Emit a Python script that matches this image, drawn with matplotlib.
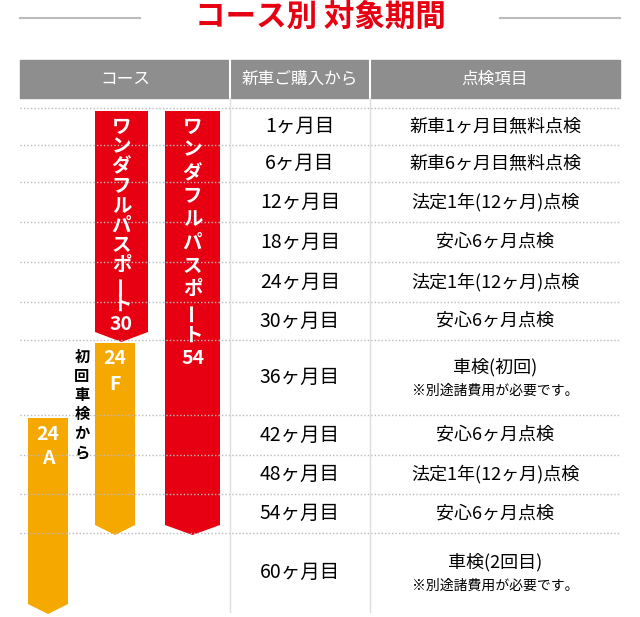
import matplotlib
matplotlib.use("Agg")
import matplotlib.pyplot as plt
from matplotlib.patches import Rectangle, Polygon

FONT = "Noto Sans CJK JP"
plt.rcParams["font.family"] = FONT

title = "コース別 対象期間"
headers = ["コース", "新車ご購入から", "点検項目"]
months = [1, 6, 12, 18, 24, 30, 36, 42, 48, 54, 60]
items = ["新車1ヶ月目無料点検", "新車6ヶ月目無料点検", "法定1年(12ヶ月)点検", "安心6ヶ月点検",
         "法定1年(12ヶ月)点検", "安心6ヶ月点検", "車検(初回)", "安心6ヶ月点検",
         "法定1年(12ヶ月)点検", "安心6ヶ月点検", "車検(2回目)"]
notes = ["", "", "", "", "", "", "※別途諸費用が必要です。", "", "", "", "※別途諸費用が必要です。"]
course_labels = [["ワ","ン","ダ","フ","ル","パ","ス","ポ","ー","ト","30"],
                 ["ワ","ン","ダ","フ","ル","パ","ス","ポ","ー","ト","54"],
                 ["24","F"], ["24","A"]]
course_start = [1, 1, 36, 42]
course_end = [30, 54, 54, 60]

RED, ORANGE, GREY = "#e60012", "#f5a800", "#8e8e8e"

fig = plt.figure(figsize=(6.4, 6.17), dpi=100)
ax = fig.add_axes([0, 0, 1, 1])
ax.set_xlim(0, 640); ax.set_ylim(617, 0); ax.axis("off")

ax.text(320, 17, title, color=RED, fontsize=22, fontweight="bold", ha="center", va="center")
ax.plot([20, 140], [18, 18], color="#bbbbbb", lw=1.5)
ax.plot([500, 620], [18, 18], color="#bbbbbb", lw=1.5)

ax.add_patch(Rectangle((20, 60), 600, 38, color=GREY))
for x in (230, 370):
    ax.plot([x, x], [60, 98], color="white", lw=1.5)
for x, h in zip([125, 300, 495], headers):
    ax.text(x, 79, h, color="white", fontsize=12, ha="center", va="center")

bounds = [108, 145, 182, 222, 262, 302, 340, 415, 455, 494, 533, 612]
for b in bounds[:-1]:
    ax.plot([20, 620], [b, b], color="#bbbbbb", lw=1, ls=(0, (1, 1.5)))
for x in (230, 370):
    ax.plot([x, x], [98, 612], color="#dddddd", lw=1)

for i, m in enumerate(months):
    yc = (bounds[i] + bounds[i + 1]) / 2
    ax.text(300, yc, f"{m}ヶ月目", fontsize=14, ha="center", va="center")
    if notes[i]:
        ax.text(495, yc - 10, items[i], fontsize=13, ha="center", va="center")
        ax.text(495, yc + 13, notes[i], fontsize=10, ha="center", va="center")
    else:
        ax.text(495, yc, items[i], fontsize=13, ha="center", va="center")

def row_top(m): return bounds[months.index(m)]
def row_bot(m): return bounds[months.index(m) + 1]

xs = [(95, 148), (165, 220), (95, 135), (28, 68)]
colors = [RED, RED, ORANGE, ORANGE]
steps = [19.8, 23.2, 25, 25]
for lab, s, e, (x0, x1), c, step in zip(course_labels, course_start, course_end, xs, colors, steps):
    top = row_top(s) + 3
    bot = row_bot(e) - 8
    tip = 10
    ax.add_patch(Polygon([(x0, top), (x1, top), (x1, bot), ((x0 + x1) / 2, bot + tip), (x0, bot)],
                         color=c, lw=0))
    xc = (x0 + x1) / 2
    for k, ch in enumerate(lab):
        ax.text(xc, top + 16 + k * step, ch, color="white", fontsize=14,
                fontweight="bold", ha="center", va="center",
                rotation=90 if ch == "ー" else 0)

for k, ch in enumerate("初回車検から"):
    ax.text(82, 357 + k * 19, ch, fontsize=11, fontweight="bold", ha="center", va="center")

fig.savefig("out.png", dpi=100)
